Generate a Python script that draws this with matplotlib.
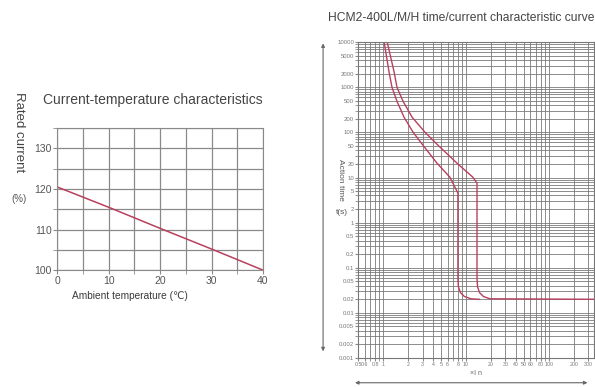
import numpy as np
import matplotlib.pyplot as plt
from matplotlib.ticker import FixedLocator, NullFormatter, LogLocator

plt.rcParams['font.family'] = ['Liberation Sans', 'DejaVu Sans']

# ---- left chart data: current vs ambient temperature ----
temp_c = [0, 10, 20, 30, 40]
rated_pct = [120.5, 115.5, 110.3, 105.2, 100.0]

# ---- right chart data: time/current characteristic (multiples of In, seconds) ----
low_x = [1.03, 1.18, 1.28, 1.47, 1.79, 2.30, 3.03, 4.47, 6.4, 8.0, 8.0, 8.1, 8.6, 9.6, 11.5, 14.5]
low_t = [10000, 2160, 1000, 490, 217, 101, 52, 20.8, 10.2, 4.5, 0.06, 0.038, 0.028, 0.023, 0.0205, 0.02]
high_x = [1.12, 1.36, 1.47, 1.74, 2.24, 3.2, 4.6, 7.8, 12.1, 13.6, 13.6, 13.8, 14.6, 16.3, 19.5, 350]
high_t = [10000, 2160, 1000, 490, 217, 101, 52, 20.8, 10.2, 7.5, 0.06, 0.038, 0.028, 0.023, 0.0205, 0.02]

t_ticks = [10000, 5000, 2000, 1000, 500, 200, 100, 50, 20, 10, 5, 2, 1,
           0.5, 0.2, 0.1, 0.05, 0.02, 0.01, 0.005, 0.002, 0.001]
t_labels = ['10000', '5000', '2000', '1000', '500', '200', '100', '50', '20', '10', '5', '2', '1',
            '0.5', '0.2', '0.1', '0.05', '0.02', '0.01', '0.005', '0.002', '0.001']
i_ticks = [0.5, 0.6, 0.8, 1, 2, 3, 4, 5, 6, 8, 10, 20, 30, 40, 50, 60, 80, 100, 200, 300]
i_labels = ['0.5', '0.6', '0.8', '1', '2', '3', '4', '5', '6', '8', '10', '20', '30', '40',
            '50', '60', '80', '100', '200', '300']

curve_col = '#b8405e'
grid_col = '#8a8a8a'
text_col = '#555555'

fig = plt.figure(figsize=(5.95, 3.87), dpi=100)

#############################
# Left: current-temperature
#############################
ax1 = fig.add_axes([0.096, 0.302, 0.346, 0.367])
ax1.plot(temp_c, rated_pct, color=curve_col, lw=1.1)
ax1.set_xlim(0, 40)
ax1.set_ylim(100, 135)
ax1.set_xticks([0, 10, 20, 30, 40])
ax1.set_xticks([5, 15, 25, 35], minor=True)
ax1.set_yticks([100, 110, 120, 130])
ax1.set_yticks([105, 115, 125, 135], minor=True)
ax1.grid(which='both', color=grid_col, lw=0.9)
ax1.tick_params(which='both', length=3, color=grid_col, labelsize=7.5,
                labelcolor=text_col, pad=1)
for s in ax1.spines.values():
    s.set_color(grid_col)
fig.text(0.257, 0.742, 'Current-temperature characteristics', fontsize=10,
         color='#444444', ha='center', va='center')
ax1.set_xlabel('Ambient temperature (℃)', fontsize=7.3, color='#3a3a3a', labelpad=0)
ax1.xaxis.set_label_coords(0.355, -0.15)
fig.text(0.032, 0.762, 'Rated current', rotation=-90, fontsize=9.5, color='#444444',
         ha='center', va='top')
fig.text(0.032, 0.486, '(%)', fontsize=7, color='#555555', ha='center', va='center')

#############################
# Right: time/current curve
#############################
ax2 = fig.add_axes([0.602, 0.075, 0.396, 0.816])
ax2.plot(low_x, low_t, color=curve_col, lw=1.0)
ax2.plot(high_x, high_t, color=curve_col, lw=1.0)
ax2.set_xscale('log')
ax2.set_yscale('log')
ax2.set_xlim(0.5, 350)
ax2.set_ylim(0.001, 10000)
ax2.xaxis.set_major_locator(FixedLocator(i_ticks))
ax2.set_xticklabels(i_labels)
ax2.xaxis.set_minor_locator(LogLocator(base=10, subs=np.arange(2, 10)))
ax2.xaxis.set_minor_formatter(NullFormatter())
ax2.yaxis.set_major_locator(FixedLocator(t_ticks))
ax2.set_yticklabels(t_labels)
ax2.yaxis.set_minor_locator(LogLocator(base=10, subs=np.arange(2, 10)))
ax2.yaxis.set_minor_formatter(NullFormatter())
ax2.grid(which='both', color='#7a7a7a', lw=0.6)
ax2.tick_params(which='both', length=2, color=grid_col, labelsize=4.3,
                labelcolor='#777777', pad=1)
ax2.tick_params(axis='x', labelsize=3.8)
for s in ax2.spines.values():
    s.set_color('#777777')
ax2.set_xlabel('×I n', fontsize=5, color='#666666', labelpad=2)

fig.text(0.776, 0.953, 'HCM2-400L/M/H time/current characteristic curve', fontsize=8.7,
         color='#444444', ha='center', va='center')
fig.text(0.572, 0.535, 'Action time', rotation=-90, fontsize=6, color='#555555',
         ha='center', va='center')
fig.text(0.574, 0.45, 't(s)', fontsize=6, color='#555555', ha='center', va='center')

# double arrows
fig.add_artist(plt.Annotation('', xy=(0.543, 0.895), xytext=(0.543, 0.085),
                              xycoords='figure fraction', textcoords='figure fraction',
                              arrowprops=dict(arrowstyle='<|-|>', color='#666666', lw=0.8,
                                              mutation_scale=5)))
fig.add_artist(plt.Annotation('', xy=(0.592, 0.011), xytext=(0.992, 0.011),
                              xycoords='figure fraction', textcoords='figure fraction',
                              arrowprops=dict(arrowstyle='<|-|>', color='#666666', lw=0.8,
                                              mutation_scale=5)))

fig.savefig('out.png', dpi=100)
